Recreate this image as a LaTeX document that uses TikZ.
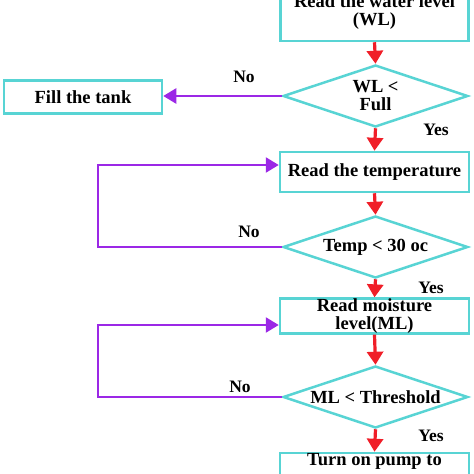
\documentclass[tikz,border=0pt]{standalone}
\usepackage{fontspec}
\setmainfont{Liberation Serif}
\usetikzlibrary{shapes.geometric,arrows.meta}
\definecolor{boxcyan}{RGB}{88,212,212}
\definecolor{arrred}{RGB}{240,30,40}
\definecolor{arrpurp}{RGB}{155,40,230}
\tikzset{
  procbox/.style={draw=boxcyan, line width=2.5pt, fill=white, rectangle, inner sep=0pt,
    align=center, font=\fontsize{18.5}{18}\selectfont\bfseries},
  decbox/.style={draw=boxcyan, line width=2.5pt, fill=white, diamond, aspect=3, inner sep=0pt,
    align=center, font=\fontsize{18.5}{18}\selectfont\bfseries,
    minimum width=185pt, minimum height=62pt},
  lbl/.style={font=\fontsize{17.5}{17}\selectfont\bfseries, inner sep=0pt},
  redarr/.style={draw=arrred, line width=3.2pt, -{Triangle[width=16pt,length=13pt]}},
  purparr/.style={draw=arrpurp, line width=2.5pt, -{Triangle[width=15pt,length=13pt]}}
}
\begin{document}
\begin{tikzpicture}[x=1pt,y=-1pt]
\useasboundingbox (0,0) rectangle (474,474);
\clip (0,0) rectangle (474,474);
\node[procbox, minimum width=188pt, minimum height=58pt] (b1) at (374.5,12) {Read the water level\\(WL)};
\node[decbox] (d1) at (375.5,96) {WL {<}\\Full};
\node[procbox, minimum width=158pt, minimum height=33pt] (fill) at (83,97) {Fill the tank};
\node[procbox, minimum width=189pt, minimum height=40pt] (b2) at (374.5,172) {Read the temperature};
\node[decbox] (d2) at (375.5,247) {Temp {<} 30 oc};
\node[procbox, minimum width=189pt, minimum height=32pt] (b3) at (374.5,316) {Read moisture\\level(ML)};
\node[decbox] (d3) at (375.5,397) {ML {<} Threshold};
\node[procbox, minimum width=189pt, minimum height=36pt] (b4) at (374.5,471) {Turn on pump to\\\strut};

\node[lbl] (no1) at (244,77) {No};
\node[lbl] (yes1) at (436,130) {Yes};
\node[lbl] (no2) at (249,232) {No};
\node[lbl] (yes2) at (431,288) {Yes};
\node[lbl] (no3) at (240,387) {No};
\node[lbl] (yes3) at (431,436) {Yes};

\coordinate (lp1) at (98,165);
\coordinate (lp2) at (98,325);

\draw[redarr] (b1.south) -- (d1.north);
\draw[redarr] (d1.south) -- (b2.north);
\draw[redarr] (b2.south) -- (d2.north);
\draw[redarr] (d2.south) -- (b3.north);
\draw[redarr] (b3.south) -- (d3.north);
\draw[redarr] (d3.south) -- (b4.north);

\draw[purparr] (d1.west) -- (fill.east |- d1.west);
\draw[purparr] (d2.west) -| (lp1) -- (b2.west |- lp1);
\draw[purparr] (d3.west) -| (lp2) -- (b3.west |- lp2);
\end{tikzpicture}
\end{document}
